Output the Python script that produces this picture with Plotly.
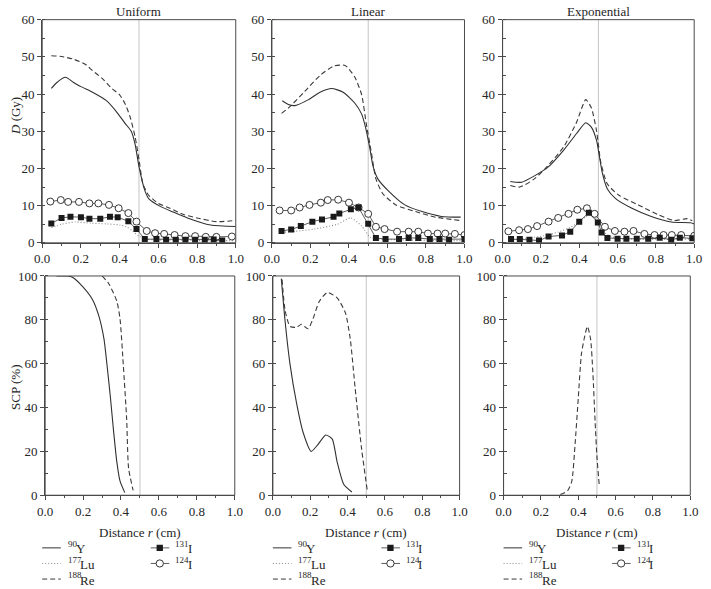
import plotly.graph_objects as go

W, H = 711, 589
R_BOUNDARY = 0.5

# ---------------- Dose D (Gy) vs r (cm) ----------------
# Uniform
U_Y_r = [0.047, 0.076, 0.12, 0.16, 0.20, 0.26, 0.33, 0.38, 0.43, 0.46, 0.48, 0.50, 0.53, 0.55, 0.61, 0.68, 0.75, 0.87, 1.0]
U_Y = [41.5, 43.1, 44.5, 43.2, 42.0, 40.5, 38.3, 35.5, 32.0, 30.0, 26.5, 20.5, 14.1, 11.9, 9.8, 8.2, 6.7, 4.8, 4.4]
U_Re_r = [0.047, 0.10, 0.16, 0.22, 0.26, 0.31, 0.36, 0.40, 0.43, 0.455, 0.48, 0.50, 0.52, 0.55, 0.60, 0.66, 0.73, 0.80, 0.90, 1.0]
U_Re = [50.3, 50.1, 49.4, 48.1, 46.3, 44.2, 41.5, 39.8, 37.2, 33.7, 28.5, 22.4, 15.9, 12.8, 10.6, 9.3, 7.6, 6.7, 5.7, 6.0]
U_Lu_r = [0.047, 0.10, 0.17, 0.25, 0.33, 0.40, 0.44, 0.47, 0.50, 0.53, 0.60, 0.70, 0.80, 0.90, 1.0]
U_Lu = [4.1, 5.0, 5.6, 5.3, 5.1, 4.8, 4.2, 3.0, 1.8, 1.0, 0.8, 0.7, 0.6, 0.6, 0.6]
U_I131_r = [0.047, 0.10, 0.146, 0.20, 0.244, 0.30, 0.35, 0.39, 0.445, 0.487, 0.53, 0.59, 0.64, 0.69, 0.74, 0.79, 0.84, 0.886, 0.93]
U_I131 = [5.2, 6.7, 7.0, 6.9, 6.5, 6.5, 7.0, 6.9, 5.8, 3.7, 1.0, 1.0, 0.8, 0.8, 0.8, 0.8, 0.8, 0.9, 0.6]
U_I124_r = [0.042, 0.096, 0.134, 0.19, 0.244, 0.29, 0.345, 0.395, 0.445, 0.487, 0.54, 0.583, 0.63, 0.684, 0.74, 0.79, 0.845, 0.90, 0.98]
U_I124 = [11.1, 11.5, 11.0, 11.0, 10.6, 10.6, 10.2, 9.3, 8.0, 5.7, 3.2, 2.6, 2.4, 2.1, 1.8, 1.8, 1.6, 1.6, 1.7]

# Linear
L_Y_r = [0.054, 0.085, 0.12, 0.19, 0.25, 0.31, 0.37, 0.43, 0.466, 0.49, 0.51, 0.525, 0.55, 0.61, 0.69, 0.78, 0.88, 0.98]
L_Y = [38.2, 37.2, 36.9, 38.5, 40.5, 41.5, 40.5, 37.6, 34.6, 30.2, 25.0, 20.6, 17.2, 13.7, 10.2, 8.4, 7.1, 6.9]
L_Re_r = [0.05, 0.093, 0.17, 0.25, 0.32, 0.38, 0.43, 0.466, 0.49, 0.517, 0.54, 0.576, 0.644, 0.746, 0.85, 0.98]
L_Re = [34.8, 36.6, 40.7, 45.0, 47.5, 47.7, 44.6, 39.8, 32.0, 24.1, 17.2, 13.2, 10.2, 8.4, 6.9, 6.0]
L_Lu_r = [0.05, 0.12, 0.22, 0.34, 0.41, 0.466, 0.51, 0.55, 0.65, 0.75, 0.85, 1.0]
L_Lu = [2.8, 3.1, 3.7, 5.0, 6.7, 4.5, 1.5, 1.0, 0.8, 0.7, 0.6, 0.6]
L_I131_r = [0.05, 0.10, 0.15, 0.21, 0.26, 0.32, 0.35, 0.41, 0.45, 0.50, 0.54, 0.59, 0.66, 0.71, 0.76, 0.82, 0.87, 0.92, 1.0]
L_I131 = [3.2, 3.6, 4.5, 5.7, 6.3, 7.0, 7.9, 9.0, 9.5, 5.1, 1.3, 1.0, 1.0, 1.3, 1.3, 1.0, 1.0, 0.8, 1.0]
L_I124_r = [0.04, 0.10, 0.144, 0.195, 0.254, 0.29, 0.344, 0.40, 0.45, 0.50, 0.54, 0.585, 0.65, 0.71, 0.76, 0.81, 0.86, 0.90, 0.95, 1.0]
L_I124 = [8.7, 8.7, 9.5, 10.2, 10.8, 11.5, 11.6, 10.8, 9.5, 7.8, 4.3, 3.7, 3.0, 3.0, 3.0, 2.5, 2.5, 2.5, 2.4, 2.1]

# Exponential
E_Y_r = [0.04, 0.10, 0.166, 0.234, 0.32, 0.386, 0.434, 0.463, 0.49, 0.505, 0.52, 0.547, 0.59, 0.675, 0.776, 0.88, 0.98, 1.0]
E_Y = [16.5, 16.3, 18.0, 20.2, 25.0, 29.4, 32.3, 31.1, 27.6, 23.3, 18.9, 14.5, 11.9, 9.3, 7.1, 5.6, 5.4, 5.1]
E_Re_r = [0.04, 0.09, 0.166, 0.234, 0.32, 0.386, 0.434, 0.463, 0.49, 0.513, 0.547, 0.607, 0.708, 0.81, 0.895, 0.963, 0.99]
E_Re = [15.4, 15.0, 17.2, 20.6, 25.9, 32.4, 38.5, 36.3, 30.2, 21.5, 15.8, 12.8, 10.2, 7.6, 6.0, 6.5, 6.0]
E_Lu_r = [0.04, 0.12, 0.217, 0.29, 0.35, 0.40, 0.437, 0.47, 0.505, 0.54, 0.60, 0.70, 0.80, 0.90, 1.0]
E_Lu = [0.8, 1.2, 1.9, 2.9, 4.1, 5.6, 7.1, 7.8, 4.8, 2.4, 1.2, 1.0, 1.0, 1.0, 1.0]
E_I131_r = [0.044, 0.09, 0.14, 0.19, 0.24, 0.31, 0.353, 0.40, 0.45, 0.497, 0.517, 0.547, 0.60, 0.646, 0.70, 0.76, 0.82, 0.88, 0.925, 0.99]
E_I131 = [1.0, 1.0, 0.8, 0.6, 1.7, 2.0, 3.0, 5.7, 8.1, 5.5, 2.8, 1.3, 1.1, 1.1, 1.1, 1.1, 1.4, 0.8, 1.4, 1.2]
E_I124_r = [0.03, 0.086, 0.132, 0.18, 0.24, 0.29, 0.344, 0.39, 0.44, 0.48, 0.534, 0.586, 0.636, 0.683, 0.74, 0.793, 0.84, 0.883, 0.932, 1.0]
E_I124 = [3.1, 3.4, 3.7, 4.5, 5.7, 6.7, 7.8, 8.9, 9.3, 7.8, 4.3, 3.2, 3.0, 3.2, 2.4, 2.1, 2.1, 2.1, 2.1, 1.9]

# ---------------- SCP (%) vs r (cm) ----------------
SU_Y_r = [0.06, 0.12, 0.146, 0.198, 0.25, 0.283, 0.31, 0.326, 0.344, 0.36, 0.378, 0.395, 0.42]
SU_Y = [100, 100, 99.3, 95.1, 89.2, 81.8, 71.4, 59.6, 44.8, 30.0, 15.2, 6.4, 1.2]
SU_Re_r = [0.30, 0.335, 0.378, 0.395, 0.412, 0.43, 0.44, 0.464]
SU_Re = [100, 96.6, 88.5, 80.3, 59.6, 34.5, 12.3, 2.2]

SL_Y_r = [0.045, 0.066, 0.092, 0.127, 0.162, 0.205, 0.24, 0.283, 0.318, 0.344, 0.38, 0.423]
SL_Y = [98.8, 78.8, 59.6, 41.9, 28.6, 20.0, 23.0, 27.5, 25.6, 15.2, 4.9, 1.5]
SL_Re_r = [0.049, 0.066, 0.092, 0.127, 0.153, 0.188, 0.214, 0.249, 0.292, 0.344, 0.388, 0.414, 0.44, 0.475, 0.506]
SL_Re = [98.4, 84.0, 77.0, 76.6, 78.0, 75.9, 80.3, 88.5, 92.5, 90.0, 83.3, 71.5, 49.3, 21.2, 1.9]

SE_Re_r = [0.304, 0.343, 0.365, 0.383, 0.40, 0.417, 0.435, 0.449, 0.466, 0.478, 0.49, 0.50, 0.513]
SE_Re = [0.3, 2.1, 6.3, 23.4, 44.3, 64.5, 72.7, 77.0, 71.2, 56.3, 33.9, 17.5, 4.0]

PANEL_TITLES = ["Uniform", "Linear", "Exponential"]
X_TICKS = [0.0, 0.2, 0.4, 0.6, 0.8, 1.0]
D_TICKS = [0, 10, 20, 30, 40, 50, 60]
SCP_TICKS = [0, 20, 40, 60, 80, 100]
# legend: (mass number, element)
LEGEND_LEFT = [("90", "Y"), ("177", "Lu"), ("188", "Re")]
LEGEND_RIGHT = [("131", "I"), ("124", "I")]

FONT = "Liberation Serif"
INK = "#262626"
AX = "#4a4a4a"

def px(x):
    return x / W

def py(y):
    return 1 - y / H

fig = go.Figure()

styles = {
    "Y": dict(mode="lines", line=dict(color="#303030", width=1.1, shape="spline", smoothing=0.6)),
    "Lu": dict(mode="lines", line=dict(color="#8a8a8a", width=1.1, dash="1px,2px", shape="spline", smoothing=0.6)),
    "Re": dict(mode="lines", line=dict(color="#3a3a3a", width=1.1, dash="5px,3px", shape="spline", smoothing=0.6)),
    "I131": dict(mode="lines+markers", line=dict(color="#333333", width=0.8),
                 marker=dict(symbol="square", size=6, color="#1a1a1a", line=dict(width=0))),
    "I124": dict(mode="lines+markers", line=dict(color="#333333", width=0.8),
                 marker=dict(symbol="circle", size=7, color="white", line=dict(color="#222222", width=0.9))),
}

dose_sets = [
    [("Y", U_Y_r, U_Y), ("Re", U_Re_r, U_Re), ("Lu", U_Lu_r, U_Lu), ("I124", U_I124_r, U_I124), ("I131", U_I131_r, U_I131)],
    [("Y", L_Y_r, L_Y), ("Re", L_Re_r, L_Re), ("Lu", L_Lu_r, L_Lu), ("I124", L_I124_r, L_I124), ("I131", L_I131_r, L_I131)],
    [("Y", E_Y_r, E_Y), ("Re", E_Re_r, E_Re), ("Lu", E_Lu_r, E_Lu), ("I124", E_I124_r, E_I124), ("I131", E_I131_r, E_I131)],
]
scp_sets = [
    [("Y", SU_Y_r, SU_Y), ("Re", SU_Re_r, SU_Re)],
    [("Y", SL_Y_r, SL_Y), ("Re", SL_Re_r, SL_Re)],
    [("Re", SE_Re_r, SE_Re)],
]

for i, series in enumerate(dose_sets):
    n = i + 1
    for key, r, v in series:
        fig.add_trace(go.Scatter(x=r, y=v, xaxis=f"x{n if n > 1 else ''}", yaxis=f"y{n if n > 1 else ''}",
                                 showlegend=False, hoverinfo="skip", **styles[key]))
for i, series in enumerate(scp_sets):
    n = i + 4
    for key, r, v in series:
        fig.add_trace(go.Scatter(x=r, y=v, xaxis=f"x{n}", yaxis=f"y{n}",
                                 showlegend=False, hoverinfo="skip", **styles[key]))

top_y = [py(242), py(13)]
bot_y = [py(501), py(276)]
top_x = [(35, 233), (270, 467), (506, 702)]
bot_x = [(38, 232), (271, 462), (507, 698)]

axis_common = dict(showgrid=False, zeroline=False, showline=True, linecolor=AX, linewidth=1,
                   ticks="outside", ticklen=4, tickcolor=AX, tickwidth=1,
                   tickfont=dict(family=FONT, size=13, color=INK))
mirror_common = dict(showgrid=False, zeroline=False, showline=False, ticks="inside", ticklen=4,
                     tickcolor="#666666", tickwidth=1, showticklabels=False)

layout = dict(width=W, height=H, margin=dict(l=0, r=0, t=0, b=0),
              paper_bgcolor="white", plot_bgcolor="white", showlegend=False,
              font=dict(family=FONT, color=INK))

for k in range(6):
    n = k + 1
    suf = "" if n == 1 else str(n)
    msuf = str(n + 6)
    top = k < 3
    xd = top_x[k] if top else bot_x[k - 3]
    yd = top_y if top else bot_y
    yt = D_TICKS if top else SCP_TICKS
    ymax = 60 if top else 100
    ydt = 5 if top else 10
    layout["xaxis" + suf] = dict(domain=[px(xd[0]), px(xd[1])], range=[0, 1], anchor="y" + suf,
                                 tickvals=X_TICKS, tickformat=".1f",
                                 minor=dict(dtick=0.1, tick0=0, ticks="outside", ticklen=2, tickcolor=AX),
                                 **axis_common)
    layout["yaxis" + suf] = dict(domain=yd, range=[0, ymax], anchor="x" + suf, tickvals=yt,
                                 minor=dict(dtick=ydt, tick0=0, ticks="inside", ticklen=3, tickcolor=AX),
                                 **axis_common)
    layout["xaxis" + msuf] = dict(domain=[px(xd[0]), px(xd[1])], range=[0, 1], anchor="y" + msuf,
                                  overlaying="x" + suf, side="top", tickvals=X_TICKS,
                                  minor=dict(dtick=0.1, tick0=0, ticks="inside", ticklen=3, tickcolor="#666666"),
                                  **mirror_common)
    layout["yaxis" + msuf] = dict(domain=yd, range=[0, ymax], anchor="x" + msuf,
                                  overlaying="y" + suf, side="right", tickvals=yt,
                                  minor=dict(dtick=ydt, tick0=0, ticks="inside", ticklen=3, tickcolor="#666666"),
                                  **mirror_common)

fig.update_layout(**layout)

shapes = []
annotations = []
for k in range(6):
    n = k + 1
    suf = "" if n == 1 else str(n)
    shapes.append(dict(type="rect", xref=f"x{suf} domain", yref=f"y{suf} domain", x0=0, x1=1, y0=0, y1=1,
                       line=dict(color=AX, width=1), layer="above"))
    shapes.append(dict(type="line", xref=f"x{suf}", yref=f"y{suf} domain", x0=R_BOUNDARY, x1=R_BOUNDARY,
                       y0=0, y1=1, line=dict(color="#c4c4c4", width=1), layer="below"))

for k, t in enumerate(PANEL_TITLES):
    cx = (top_x[k][0] + top_x[k][1]) / 2
    annotations.append(dict(text=t, x=px(cx), y=py(5), xref="paper", yref="paper", showarrow=False,
                            xanchor="center", yanchor="middle", font=dict(family=FONT, size=13, color=INK)))
annotations.append(dict(text="<i>D</i> (Gy)", x=px(7), y=py(112), xref="paper", yref="paper", showarrow=False,
                        textangle=-90, xanchor="center", yanchor="middle", font=dict(family=FONT, size=13, color=INK)))
annotations.append(dict(text="SCP (%)", x=px(7), y=py(390), xref="paper", yref="paper", showarrow=False,
                        textangle=-90, xanchor="center", yanchor="middle", font=dict(family=FONT, size=13, color=INK)))


def isotope_label(x_left, y_mid, mass, elem):
    sup_w = 4.6 * len(mass)
    annotations.append(dict(text=mass, x=px(x_left), y=py(y_mid - 4), xref="paper", yref="paper",
                            showarrow=False, xanchor="left", yanchor="middle", borderpad=0,
                            font=dict(family=FONT, size=9, color=INK)))
    annotations.append(dict(text=elem, x=px(x_left + sup_w - 1), y=py(y_mid + 1), xref="paper", yref="paper",
                            showarrow=False, xanchor="left", yanchor="middle", borderpad=0,
                            font=dict(family=FONT, size=13, color=INK)))


for k in range(3):
    cx = (bot_x[k][0] + bot_x[k][1]) / 2
    annotations.append(dict(text="Distance <i>r</i> (cm)", x=px(cx), y=py(539), xref="paper", yref="paper",
                            showarrow=False, xanchor="center", yanchor="middle",
                            font=dict(family=FONT, size=13, color=INK)))
    off = 236 * k
    rows = [555, 571, 587]
    dashes = ["solid", "1px,2px", "5px,3px"]
    colors = ["#333333", "#8a8a8a", "#3a3a3a"]
    for j, (mass, elem) in enumerate(LEGEND_LEFT):
        shapes.append(dict(type="line", xref="paper", yref="paper", x0=px(35 + off), x1=px(54 + off),
                           y0=py(rows[j]), y1=py(rows[j]),
                           line=dict(color=colors[j], width=1, dash=dashes[j])))
        isotope_label(60 + off, rows[j], mass, elem)
    for j, (mass, elem) in enumerate(LEGEND_RIGHT):
        yy = rows[j]
        shapes.append(dict(type="line", xref="paper", yref="paper", x0=px(146 + off), x1=px(165 + off),
                           y0=py(yy), y1=py(yy), line=dict(color="#333333", width=0.8)))
        if j == 0:
            shapes.append(dict(type="rect", xref="paper", yref="paper", x0=px(152 + off), x1=px(158.5 + off),
                               y0=py(yy + 3.2), y1=py(yy - 3.2), fillcolor="#1a1a1a", line=dict(width=0)))
        else:
            shapes.append(dict(type="circle", xref="paper", yref="paper", x0=px(151.5 + off), x1=px(159 + off),
                               y0=py(yy + 3.7), y1=py(yy - 3.7), fillcolor="white",
                               line=dict(color="#222222", width=0.9)))
        isotope_label(170 + off, yy, mass, elem)

fig.update_layout(shapes=shapes, annotations=annotations)
fig.write_html("out.html")
